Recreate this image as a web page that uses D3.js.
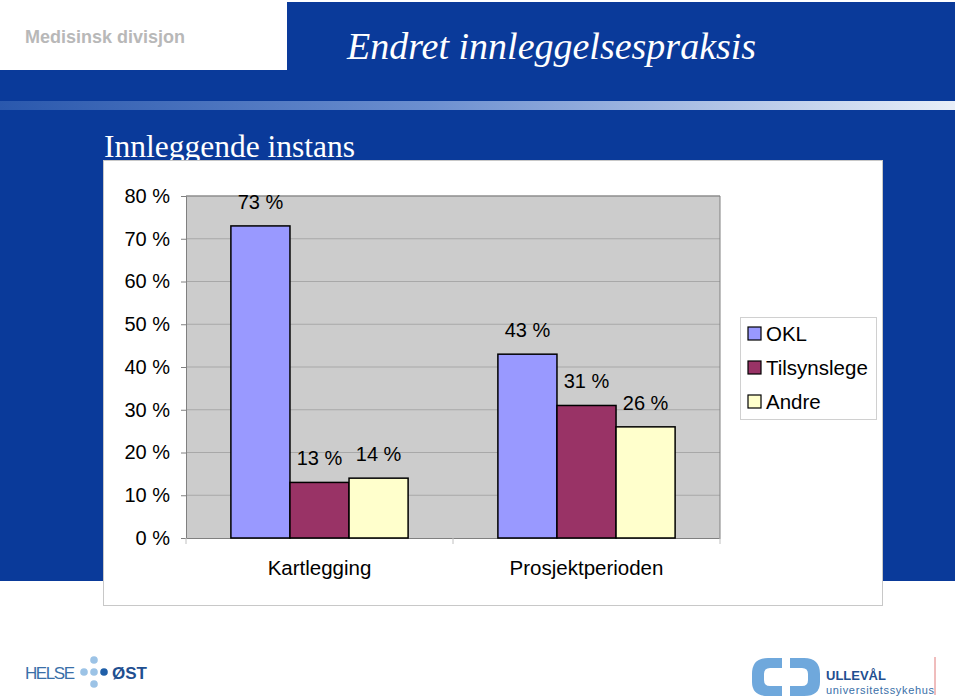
<!DOCTYPE html>
<html><head><meta charset="utf-8">
<script src="https://cdn.jsdelivr.net/npm/d3@7/dist/d3.min.js"></script>
<style>body{margin:0;background:#fff}svg{display:block}</style>
</head><body>
<script>
const categories = ["Kartlegging", "Prosjektperioden"];
const seriesNames = ["OKL", "Tilsynslege", "Andre"];
const okl = [73, 43];
const tilsynslege = [13, 31];
const andre = [14, 26];
const yTicks = [0, 10, 20, 30, 40, 50, 60, 70, 80];
const colors = ["#9999ff", "#993366", "#ffffcc"];

const W = 960, H = 700;
const svg = d3.select("body").append("svg").attr("width", W).attr("height", H);
const SANS = "Arial, Liberation Sans, sans-serif";
const SERIF = "Times New Roman, Liberation Serif, serif";

// Background decoration
const blue = "#0a3a9a";
svg.append("rect").attr("x", 287).attr("y", 2).attr("width", 668).attr("height", 100).attr("fill", blue);
svg.append("rect").attr("x", 0).attr("y", 70).attr("width", 955).attr("height", 511).attr("fill", blue);
const grad = svg.append("defs").append("linearGradient").attr("id", "stripe");
grad.append("stop").attr("offset", "0%").attr("stop-color", "#2a58ad");
grad.append("stop").attr("offset", "45%").attr("stop-color", "#6c8fd0");
grad.append("stop").attr("offset", "100%").attr("stop-color", "#e8eef8");
svg.append("rect").attr("x", 0).attr("y", 101).attr("width", 955).attr("height", 9).attr("fill", "url(#stripe)");
svg.append("text").attr("x", 25).attr("y", 43).attr("font-family", SANS)
  .attr("font-weight", "bold").attr("font-size", 18).attr("fill", "#b8b8b8").text("Medisinsk divisjon");
svg.append("text").attr("x", 347).attr("y", 59).attr("font-family", SERIF)
  .attr("font-style", "italic").attr("font-size", 38).attr("fill", "#fff").text("Endret innleggelsespraksis");
svg.append("text").attr("x", 104).attr("y", 157).attr("font-family", SERIF)
  .attr("font-size", 31.5).attr("fill", "#fff").text("Innleggende instans");

// Chart panel
svg.append("rect").attr("x", 103.5).attr("y", 160.5).attr("width", 779).attr("height", 445)
  .attr("fill", "#fff").attr("stroke", "#c8c8c8");

const x0 = d3.scaleBand().domain(categories).range([186, 720]);
const x1 = d3.scaleBand().domain(seriesNames).range([0, x0.bandwidth()]).paddingOuter(0.76).paddingInner(0);
const y = d3.scaleLinear().domain([0, 80]).range([538, 196]);

const g = svg.append("g");
g.append("rect").attr("x", 186).attr("y", 196).attr("width", 534).attr("height", 342).attr("fill", "#cccccc");
g.selectAll("line.grid").data(yTicks.slice(1)).join("line")
  .attr("x1", 186).attr("x2", 720).attr("y1", d => y(d)).attr("y2", d => y(d))
  .attr("stroke", "#a8a8a8").attr("stroke-width", 1);
g.append("line").attr("x1", 720).attr("x2", 720).attr("y1", 196).attr("y2", 538).attr("stroke", "#808080");
g.append("line").attr("x1", 186).attr("x2", 720).attr("y1", 196).attr("y2", 196).attr("stroke", "#808080");

// Y axis
const yAxis = g.append("g").attr("transform", "translate(186,0)")
  .call(d3.axisLeft(y).tickValues(yTicks).tickFormat(d => d + " %").tickSize(5).tickPadding(11));
yAxis.select(".domain").attr("stroke", "#808080");
yAxis.selectAll(".tick line").attr("stroke", "#808080");
yAxis.selectAll("text").attr("font-family", SANS).attr("font-size", 20).attr("fill", "#000");

// X axis
const xAxis = g.append("g").attr("transform", "translate(0,538)")
  .call(d3.axisBottom(x0).tickSize(0).tickPadding(22));
xAxis.select(".domain").attr("stroke", "#808080");
xAxis.selectAll("text").attr("font-family", SANS).attr("font-size", 20.5).attr("fill", "#000");
g.selectAll("line.xt").data([186, 453, 720]).join("line")
  .attr("x1", d => d).attr("x2", d => d).attr("y1", 538).attr("y2", 544).attr("stroke", "#c0c0c0");

// Bars
const seriesData = [okl, tilsynslege, andre];
const rows = [];
categories.forEach((c, i) => seriesNames.forEach((s, j) => rows.push({c, s, v: seriesData[j][i], j})));
g.selectAll("rect.bar").data(rows).join("rect")
  .attr("x", d => x0(d.c) + x1(d.s)).attr("y", d => y(d.v))
  .attr("width", x1.bandwidth()).attr("height", d => y(0) - y(d.v))
  .attr("fill", d => colors[d.j]).attr("stroke", "#000").attr("stroke-width", 1.5);
g.selectAll("text.lbl").data(rows).join("text")
  .attr("x", d => x0(d.c) + x1(d.s) + x1.bandwidth() / 2).attr("y", d => y(d.v) - 17)
  .attr("text-anchor", "middle").attr("font-family", SANS)
  .attr("font-size", 20).attr("fill", "#000").text(d => d.v + " %");

// Legend
const lg = svg.append("g");
lg.append("rect").attr("x", 740.5).attr("y", 317.5).attr("width", 136).attr("height", 102)
  .attr("fill", "#fff").attr("stroke", "#d0d0d0");
seriesNames.forEach((s, i) => {
  const yy = 334 + i * 34;
  lg.append("rect").attr("x", 748).attr("y", yy - 7).attr("width", 13).attr("height", 13)
    .attr("fill", colors[i]).attr("stroke", "#000").attr("stroke-width", 1.2);
  lg.append("text").attr("x", 766).attr("y", yy + 7).attr("font-family", SANS)
    .attr("font-size", 20.5).attr("fill", "#000").text(s);
});

// Footer logos
const ft = svg.append("g");
ft.append("text").attr("x", 25).attr("y", 679).attr("font-family", SANS)
  .attr("font-size", 17).attr("fill", "#3a6fa8").attr("textLength", 50).text("HELSE");
[[84,672,"#9cc3e6"],[94,672,"#9cc3e6"],[104,672,"#1f5fa8"],[94,660,"#9cc3e6"],[94,684,"#9cc3e6"]].forEach(p =>
  ft.append("circle").attr("cx", p[0]).attr("cy", p[1]).attr("r", 3.8).attr("fill", p[2]));
ft.append("text").attr("x", 112).attr("y", 679).attr("font-family", SANS)
  .attr("font-weight", "bold").attr("font-size", 17).attr("fill", "#1f4f90").text("ØST");
ft.append("path").attr("d", "M782,658 L768,658 Q752,658 752,674 L752,682 Q752,696 768,696 L782,696 L782,686 L770,686 Q764,686 764,680 L764,674 Q764,668 770,668 L782,668 Z").attr("fill", "#6fa8dc");
ft.append("path").attr("d", "M790,658 L804,658 Q820,658 820,674 L820,682 Q820,696 804,696 L790,696 L790,686 L802,686 Q808,686 808,680 L808,674 Q808,668 802,668 L790,668 Z").attr("fill", "#6fa8dc");
ft.append("text").attr("x", 826).attr("y", 680).attr("font-family", SANS)
  .attr("font-weight", "bold").attr("font-size", 13).attr("fill", "#1f4f90").text("ULLEVÅL");
ft.append("text").attr("x", 826).attr("y", 694).attr("font-family", SANS)
  .attr("font-size", 11).attr("fill", "#3a6fa8").attr("textLength", 108).text("universitetssykehus");
ft.append("line").attr("x1", 935).attr("x2", 935).attr("y1", 657).attr("y2", 695).attr("stroke", "#e07a7a");
</script>
</body></html>
